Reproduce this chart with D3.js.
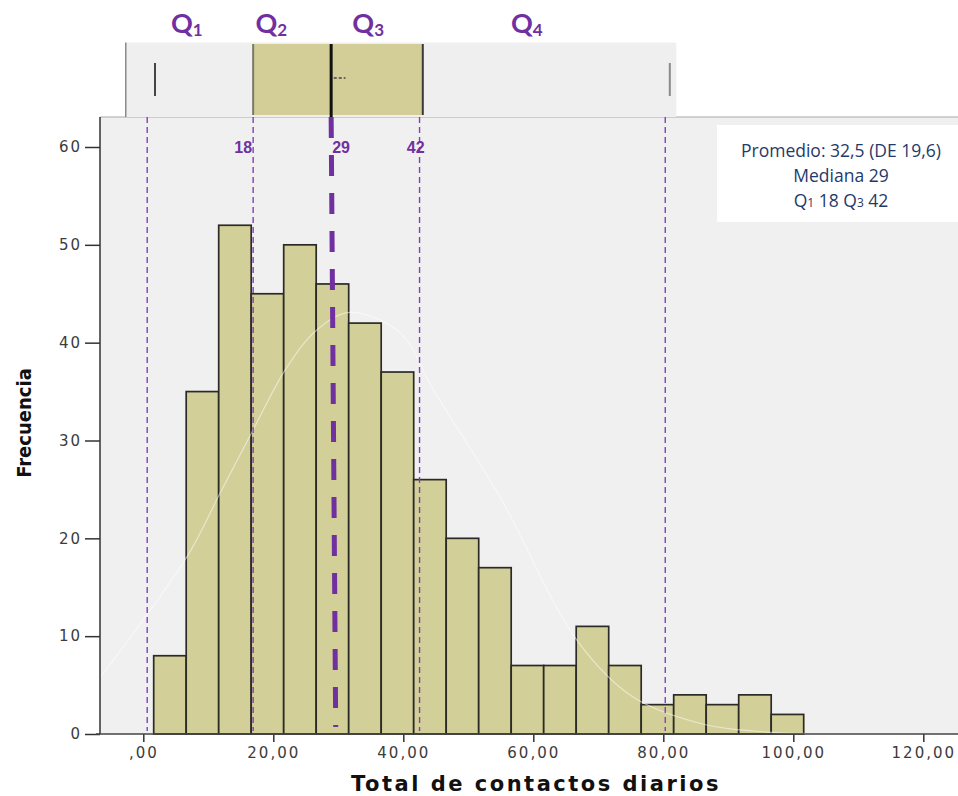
<!DOCTYPE html>
<html>
<head>
<meta charset="utf-8">
<script src="https://cdn.jsdelivr.net/npm/d3@7"></script>
<style>
  body { margin: 0; background: #fff; }
  svg { display: block; }
</style>
</head>
<body>
<div id="chart"></div>
<script>
// histogram: lower edge of every bin (width 5) and its count
var binStarts = [1.6, 6.6, 11.6, 16.6, 21.6, 26.6, 31.6, 36.6, 41.6, 46.6,
                 51.6, 56.6, 61.6, 66.6, 71.6, 76.6, 81.6, 86.6, 91.6, 96.6];
var binWidth = 5;
var counts = [8, 35, 52, 45, 50, 46, 42, 37, 26, 20, 17, 7, 7, 11, 7, 3, 4, 3, 4, 2];

var xTicks = [0, 20, 40, 60, 80, 100, 120];
var xTickLabels = [",00", "20,00", "40,00", "60,00", "80,00", "100,00", "120,00"];
var yTicks = [0, 10, 20, 30, 40, 50, 60];

// normal curve, points [x, frecuencia]
var curvePts = [[-6.6, 5.9], [-6.2, 6.2], [6.7, 18.1], [11.8, 24.6], [16.9, 31.1], [22.1, 37.5],
                [26.7, 41.3], [31.8, 43.1], [39.5, 41.0], [44.6, 35.2], [54.9, 24.2],
                [66.7, 9.6], [75.3, 3.8], [85.6, 1.1], [95.9, 0.2], [110, 0.02], [125, 0]];

// boxplot: panel edges, whiskers, box, median, mean
var boxPanel = [-2.7, 82];
var whiskers = [1.8, 81.0];
var boxQ = [16.9, 43.0];
var boxMedian = 28.9;
var boxMean = [29.3, 31.1];

// dashed reference lines and the thick median line (top, bottom)
var refLines = [0.6, 16.9, 42.5, 80.3];
var medianLine = [28.9, 29.6];
var refLabels = [{t: "18", v: 16.9, anchor: "end", dx: -1},
                 {t: "29", v: 28.9, anchor: "start", dx: 1},
                 {t: "42", v: 42.5, anchor: "end", dx: 5}];
var qLabels = [{q: "Q", s: "1", v: 6.7}, {q: "Q", s: "2", v: 19.7},
               {q: "Q", s: "3", v: 34.6}, {q: "Q", s: "4", v: 59.0}];

var purple = "#7030a0";
var width = 958, height = 796;
var plot = {left: 100, right: 958, top: 117, bottom: 734};

var x = d3.scaleLinear().domain([0, 120]).range([143.3, 923.3]);
var y = d3.scaleLinear().domain([0, 60]).range([plot.bottom, 147]);

var svg = d3.select("#chart").append("svg")
    .attr("width", width).attr("height", height)
    .attr("viewBox", [0, 0, width, height]);

// plot background
svg.append("rect")
    .attr("x", plot.left).attr("y", plot.top)
    .attr("width", plot.right - plot.left).attr("height", plot.bottom - plot.top)
    .attr("fill", "#f0f0f0");
svg.append("line")
    .attr("x1", plot.left).attr("x2", plot.right)
    .attr("y1", plot.top).attr("y2", plot.top)
    .attr("stroke", "#a8a8a8");

// boxplot panel
var bp = svg.append("g");
bp.append("rect")
    .attr("x", x(boxPanel[0])).attr("y", 42.5)
    .attr("width", x(boxPanel[1]) - x(boxPanel[0])).attr("height", plot.top - 42.5)
    .attr("fill", "#efefef");
bp.append("line")
    .attr("x1", x(boxPanel[0])).attr("x2", x(boxPanel[0]))
    .attr("y1", 42.5).attr("y2", plot.top)
    .attr("stroke", "#8a8a8a").attr("stroke-width", 1.5);
bp.append("rect")
    .attr("x", x(boxQ[0])).attr("y", 44)
    .attr("width", x(boxQ[1]) - x(boxQ[0])).attr("height", 71)
    .attr("fill", "#d3cd97");
bp.selectAll("line.edge")
    .data(boxQ)
    .join("line")
    .attr("class", "edge")
    .attr("x1", d => x(d)).attr("x2", d => x(d))
    .attr("y1", 44).attr("y2", 115)
    .attr("stroke", (d, i) => i ? "#3a3a3a" : "#7a7a6a")
    .attr("stroke-width", 2);
bp.selectAll("line.whisker")
    .data(whiskers)
    .join("line")
    .attr("class", "whisker")
    .attr("x1", d => x(d)).attr("x2", d => x(d))
    .attr("y1", 63).attr("y2", 96)
    .attr("stroke", (d, i) => i ? "#8a8a8a" : "#444")
    .attr("stroke-width", 2);
bp.append("line")
    .attr("x1", x(boxMedian)).attr("x2", x(boxMedian))
    .attr("y1", 44).attr("y2", plot.top)
    .attr("stroke", "#111").attr("stroke-width", 3);
bp.append("line")
    .attr("x1", x(boxMean[0])).attr("x2", x(boxMean[1]))
    .attr("y1", 78).attr("y2", 78)
    .attr("stroke", "#444").attr("stroke-width", 1.5)
    .attr("stroke-dasharray", "3,2");

// Q labels
var ql = svg.append("g")
    .selectAll("text")
    .data(qLabels)
    .join("text")
    .attr("x", d => x(d.v)).attr("y", 33)
    .attr("text-anchor", "middle")
    .attr("fill", purple)
    .style("font", "bold 27px Lato, 'Open Sans', sans-serif");
ql.append("tspan").text(d => d.q);
ql.append("tspan").attr("dy", 3).style("font-size", "17px").text(d => d.s);

// histogram bars
svg.append("g")
    .selectAll("rect")
    .data(counts)
    .join("rect")
    .attr("x", (d, i) => x(binStarts[i]))
    .attr("y", d => y(d))
    .attr("width", (d, i) => x(binStarts[i] + binWidth) - x(binStarts[i]))
    .attr("height", d => y(0) - y(d))
    .attr("fill", "#d3cf98")
    .attr("stroke", "#2a2a26")
    .attr("stroke-width", 1.7);

// normal curve
svg.append("path")
    .datum(curvePts)
    .attr("fill", "none")
    .attr("stroke", "#ffffff")
    .attr("stroke-width", 1.2)
    .attr("opacity", 0.5)
    .attr("d", d3.line().x(d => x(d[0])).y(d => y(d[1])).curve(d3.curveCatmullRom));

// thin dashed reference lines
svg.append("g")
    .selectAll("line")
    .data(refLines)
    .join("line")
    .attr("x1", d => x(d)).attr("x2", d => x(d))
    .attr("y1", plot.top).attr("y2", 731)
    .attr("stroke", "#8040b8")
    .attr("stroke-width", 1.4)
    .attr("stroke-dasharray", "6,4");

// thick median line
svg.append("line")
    .attr("x1", x(medianLine[0])).attr("x2", x(medianLine[1]))
    .attr("y1", plot.top).attr("y2", 727)
    .attr("stroke", purple)
    .attr("stroke-width", 5)
    .attr("stroke-dasharray", "21,17");

svg.append("g")
    .selectAll("text")
    .data(refLabels)
    .join("text")
    .attr("x", d => x(d.v) + d.dx).attr("y", 153)
    .attr("text-anchor", d => d.anchor)
    .attr("fill", purple)
    .style("font", "bold 16px 'Liberation Sans', Arial, sans-serif")
    .text(d => d.t);

// y axis
var yAxis = svg.append("g")
    .attr("transform", `translate(${plot.left},0)`)
    .call(d3.axisLeft(y).tickValues(yTicks).tickSize(15).tickPadding(3).tickFormat(d3.format("d")));
yAxis.select(".domain").remove();
yAxis.selectAll(".tick line").attr("stroke", "#333").attr("stroke-width", 1.5);
yAxis.selectAll(".tick text")
    .attr("fill", "#3c3c3c")
    .style("font", "15px 'DejaVu Sans', sans-serif")
    .style("letter-spacing", "2px");
svg.append("line")
    .attr("x1", plot.left).attr("x2", plot.left)
    .attr("y1", plot.top).attr("y2", plot.bottom)
    .attr("stroke", "#333").attr("stroke-width", 1.5);

// x axis
var xAxis = svg.append("g")
    .attr("transform", `translate(0,${plot.bottom})`)
    .call(d3.axisBottom(x).tickValues(xTicks).tickSize(8).tickPadding(5)
        .tickFormat((d, i) => xTickLabels[i]));
xAxis.select(".domain").remove();
xAxis.selectAll(".tick line").attr("stroke", "#333").attr("stroke-width", 1.5);
xAxis.selectAll(".tick text")
    .attr("fill", "#3c3c3c")
    .style("font", "15px 'DejaVu Sans', sans-serif")
    .style("letter-spacing", "2px");
svg.append("line")
    .attr("x1", 96).attr("x2", plot.right)
    .attr("y1", plot.bottom).attr("y2", plot.bottom)
    .attr("stroke", "#444").attr("stroke-width", 1.5);

// axis titles
svg.append("text")
    .attr("x", 536).attr("y", 791)
    .attr("text-anchor", "middle")
    .attr("fill", "#111")
    .style("font", "bold 21px 'DejaVu Sans', sans-serif")
    .style("letter-spacing", "2.5px")
    .text("Total de contactos diarios");
svg.append("text")
    .attr("transform", "translate(31,423) rotate(-90)")
    .attr("text-anchor", "middle")
    .attr("fill", "#111")
    .style("font", "bold 20px 'DejaVu Sans Condensed', 'Liberation Sans Narrow', sans-serif")
    .style("font-stretch", "condensed")
    .text("Frecuencia");

// summary box
svg.append("rect")
    .attr("x", 717).attr("y", 125)
    .attr("width", 241).attr("height", 97)
    .attr("fill", "#fff");
var sumLines = svg.append("g")
    .attr("text-anchor", "middle")
    .attr("fill", "#1f3a6b")
    .style("font", "17.5px 'Open Sans', Lato, sans-serif");
sumLines.append("text").attr("x", 841).attr("y", 157).text("Promedio: 32,5 (DE 19,6)");
sumLines.append("text").attr("x", 841).attr("y", 182).text("Mediana 29");
var q = sumLines.append("text").attr("x", 841).attr("y", 207);
q.append("tspan").text("Q");
q.append("tspan").style("font-size", "12px").text("1");
q.append("tspan").text(" 18 Q");
q.append("tspan").style("font-size", "12px").text("3");
q.append("tspan").text(" 42");
</script>
</body>
</html>
